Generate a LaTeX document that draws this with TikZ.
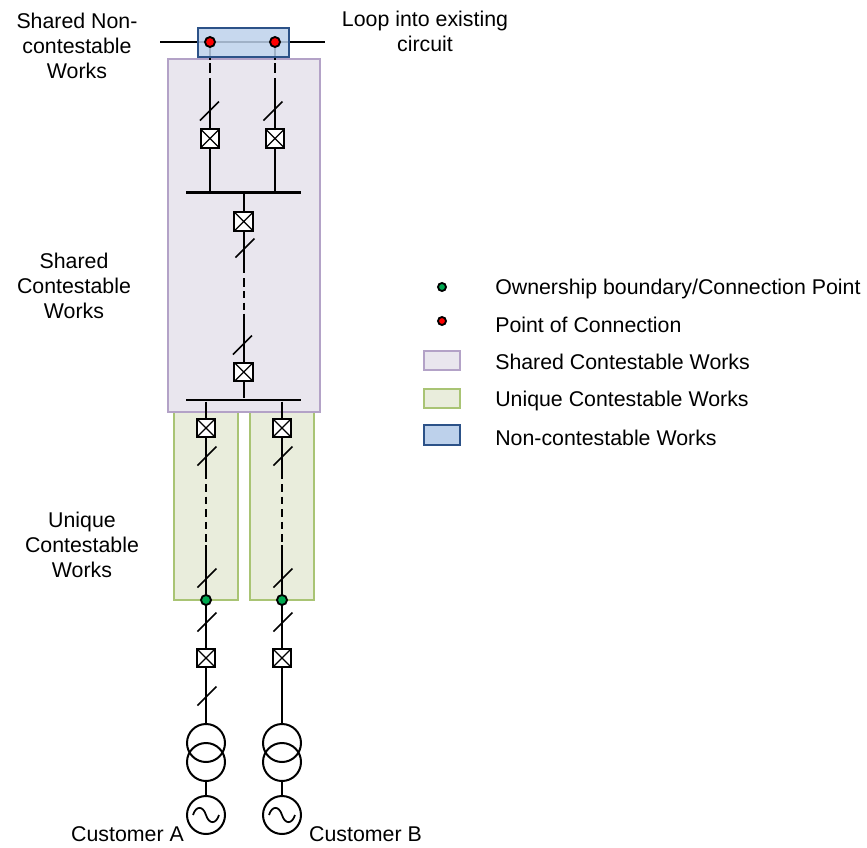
\documentclass[tikz,border=0pt]{standalone}
\usepackage{fontspec}
\setmainfont{Liberation Sans}
\definecolor{blueF}{HTML}{BDD1EB}
\definecolor{blueB}{HTML}{2C5288}
\definecolor{purpF}{HTML}{E9E6EE}
\definecolor{purpB}{HTML}{B3A2C7}
\definecolor{greenF}{HTML}{E9EDDC}
\definecolor{greenB}{HTML}{A9C474}
\definecolor{dotG}{HTML}{00A850}
\tikzset{
  x=0.75pt,y=-0.75pt,
  wire/.style={line width=1.5pt,black},
  dashwire/.style={line width=1.5pt,black,dash pattern=on 5.5pt off 3.9pt,dash phase=2.5pt},
  slashline/.style={line width=1.2pt,black},
  busbar/.style={rectangle,fill=black,inner sep=0pt,minimum height=2.2pt},
  breaker/.style={rectangle,draw=black,line width=1.6pt,fill=white,inner sep=0pt,minimum size=14pt,
    path picture={\draw[line width=1pt] (path picture bounding box.north west)--(path picture bounding box.south east)
      (path picture bounding box.north east)--(path picture bounding box.south west);}},
  winding/.style={circle,draw=black,line width=1.5pt,inner sep=0pt,minimum size=28.5pt},
  reddot/.style={circle,draw=black,line width=1.4pt,fill=red,inner sep=0pt,minimum size=7.5pt},
  greendot/.style={circle,draw=black,line width=1.4pt,fill=dotG,inner sep=0pt,minimum size=7.5pt},
  label/.style={font=\fontsize{16}{18.9}\selectfont,align=center,inner sep=0pt,text=black},
  legendtext/.style={font=\fontsize{16}{18}\selectfont,anchor=base west,inner sep=0pt,text=black},
  region/.style={rectangle,inner sep=0pt,line width=1.3pt},
  slashmark/.pic={\draw[slashline] (-9.5,9.5)--(9.5,-9.5);}
}
\begin{document}
\begin{tikzpicture}
\useasboundingbox (0,0) rectangle (867,847);
% regions
\node[region,draw=greenB,fill=greenF,minimum width=48pt,minimum height=141pt] (uniqueA) at (206.2,506) {};
\node[region,draw=greenB,fill=greenF,minimum width=48pt,minimum height=141pt] (uniqueB) at (281.8,506) {};
\node[region,draw=purpB,fill=purpF,minimum width=113.5pt,minimum height=265pt] (shared) at (244,235.5) {};
% existing circuit
\coordinate (loopL) at (160,42);
\coordinate (loopR) at (325,42);
\coordinate (pocA) at (210,42);
\coordinate (pocB) at (275,42);
\draw[wire] (loopL)--(loopR);
\draw[line width=1.5pt,dash pattern=on 13.5pt off 2.5pt on 7.5pt off 4pt] (pocA)--(210,78) coordinate (sa);
\draw[line width=1.5pt,dash pattern=on 13.5pt off 2.5pt on 7.5pt off 4pt] (pocB)--(275,78) coordinate (sb);
\node[region,draw=blueB,fill=blueF,fill opacity=0.85,minimum width=68pt,minimum height=21.5pt] (noncont) at (243.5,42.5) {};
% breakers
\node[breaker] (b1) at (210,138.5) {};
\node[breaker] (b2) at (275,138.5) {};
\node[breaker] (b3) at (243.7,221.5) {};
\node[breaker] (b4) at (243.7,372) {};
\node[breaker] (b5) at (206,428) {};
\node[breaker] (b6) at (282,428) {};
\node[breaker] (b7) at (206,658) {};
\node[breaker] (b8) at (282,658) {};
% busbars
\node[busbar,minimum width=86pt] (busT) at (243.7,192.5) {};
\node[busbar,minimum width=86pt] (busB) at (243.7,400) {};
% ownership points
\coordinate (ownA) at (206,600);
\coordinate (ownB) at (282,600);
% transformers + generators
\node[winding] (t1a) at (206,743) {};
\node[winding] (t2a) at (206,762) {};
\node[winding] (ga) at (206,815) {};
\node[winding] (t1b) at (282,743) {};
\node[winding] (t2b) at (282,762) {};
\node[winding] (gb) at (282,815) {};
% connectors top
\draw[wire] (sa)--(b1.north);
\draw[wire] (sb)--(b2.north);
\draw[wire] (b1.south)--(b1.south |- busT.north);
\draw[wire] (b2.south)--(b2.south |- busT.north);
\draw[wire] (busT.south -| b3.north)--(b3.north);
\coordinate (m1) at (243.7,268);
\coordinate (m2) at (243.7,315);
\draw[wire] (b3.south)--(m1);
\draw[line width=1.5pt,dash pattern=on 3.8pt off 3.7pt on 6.7pt off 3pt on 5.3pt off 3.5pt on 5.3pt off 3pt] (m1)--(m2);
\draw[wire] (m2)--(b4.north);
\draw[wire] (b4.south)--(b4.south |- busB.north);
\draw[wire] (busB.south -| b5.north)--(b5.north);
\draw[wire] (busB.south -| b6.north)--(b6.north);
% connectors bottom
\coordinate (da) at (206,475);
\coordinate (db) at (282,475);
\coordinate (ea) at (206,545);
\coordinate (eb) at (282,545);
\draw[wire] (b5.south)--(da);
\draw[wire] (b6.south)--(db);
\draw[dashwire] (da)--(ea);
\draw[dashwire] (db)--(eb);
\draw[wire] (ea)--(ownA)--(b7.north);
\draw[wire] (eb)--(ownB)--(b8.north);
\draw[wire] (b7.south)--(t1a.north);
\draw[wire] (b8.south)--(t1b.north);
\draw[wire] (t2a.south)--(ga.north);
\draw[wire] (t2b.south)--(gb.north);
% dots
\node[reddot] (pa) at (pocA) {};
\node[reddot] (pb) at (pocB) {};
\node[greendot] (oa) at (ownA) {};
\node[greendot] (ob) at (ownB) {};
% slashes
\foreach \p in {(209.5,111),(273,111),(245,248),(242.5,345),(207,456),(283,456),(207,578),(283,578),(207,622),(283,622),(207,696)}
  \pic at \p {slashmark};
% sine waves
\draw[line width=1.3pt] (193,815) .. controls (196,805.5) and (203,805.5) .. (206,815) .. controls (209,824.5) and (216,824.5) .. (219,815);
\draw[line width=1.3pt] (269,815) .. controls (272,805.5) and (279,805.5) .. (282,815) .. controls (285,824.5) and (292,824.5) .. (295,815);
% labels
\node[label] (l1) at (77,46) {Shared Non-\\contestable\\Works};
\node[label] (l2) at (425,31) {Loop into existing\\circuit};
\node[label] (l3) at (74,286) {Shared\\Contestable\\Works};
\node[label] (l4) at (82,545) {Unique\\Contestable\\Works};
\node[label] (ca) at (127.5,834) {Customer A};
\node[label] (cb) at (365.5,834) {Customer B};
% legend
\node[greendot,minimum size=6pt] (k1) at (442,287) {};
\node[reddot,minimum size=6pt] (k2) at (442,321) {};
\node[region,draw=purpB,fill=purpF,minimum width=27.5pt,minimum height=14pt] (k3) at (442,360.5) {};
\node[region,draw=greenB,fill=greenF,minimum width=27.5pt,minimum height=14pt] (k4) at (442,398.5) {};
\node[region,draw=blueB,fill=blueF,minimum width=27.5pt,minimum height=15.5pt] (k5) at (442,435) {};
\node[legendtext] (t1) at (495,294) {Ownership boundary/Connection Point};
\node[legendtext] (t2) at (495,332.5) {Point of Connection};
\node[legendtext] (t3) at (495,369) {Shared Contestable Works};
\node[legendtext] (t4) at (495,406.5) {Unique Contestable Works};
\node[legendtext] (t5) at (495,445.5) {Non-contestable Works};
\end{tikzpicture}
\end{document}
